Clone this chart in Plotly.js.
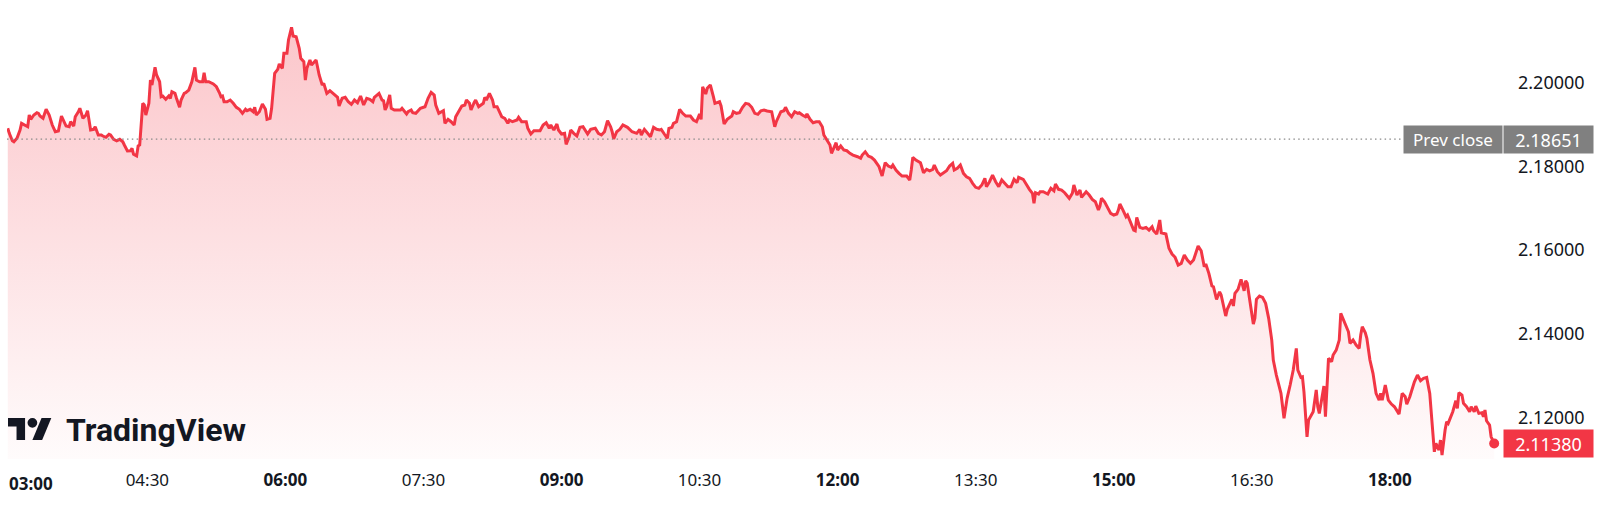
<!DOCTYPE html>
<html>
<head>
<meta charset="utf-8">
<script src="https://cdn.plot.ly/plotly-3.0.1.min.js"></script>
<style>
html,body{margin:0;padding:0;background:#ffffff;}
#chart{width:1610px;height:506px;}
</style>
</head>
<body>
<div id="chart"></div>
<script>
// ---------------- DATA ----------------
const DAY = '2024-01-01 ';
const times = [
'02:59','03:00','03:02','03:03','03:05','03:07','03:08','03:11','03:12','03:13',
'03:14','03:16','03:18','03:19','03:20','03:22','03:24','03:26','03:28','03:30',
'03:32','03:34','03:35','03:37','03:39','03:40','03:42','03:43','03:45','03:46',
'03:48','03:50','03:51','03:53','03:55','03:56','03:58','04:00','04:01','04:03',
'04:05','04:06','04:08','04:10','04:12','04:14','04:15','04:17','04:19','04:20',
'04:21','04:23','04:24','04:25','04:27','04:28','04:29','04:31','04:32','04:33',
'04:35','04:36','04:38','04:39','04:40','04:42','04:44','04:45','04:46','04:48',
'04:49','04:51','04:52','04:54','04:55','04:57','04:59','05:01','05:02','05:04',
'05:06','05:07','05:08','05:10','05:13','05:15','05:17','05:18','05:19','05:20',
'05:22','05:24','05:26','05:28','05:30','05:32','05:34','05:35','05:37','05:39',
'05:40','05:41','05:43','05:45','05:47','05:48','05:50','05:51','05:53','05:55',
'05:56','05:58','05:59','06:01','06:02','06:04','06:05','06:07','06:09','06:10',
'06:12','06:13','06:14','06:16','06:17','06:20','06:22','06:24','06:25','06:27',
'06:29','06:31','06:34','06:35','06:37','06:39','06:41','06:43','06:45','06:47',
'06:49','06:51','06:53','06:55','06:57','06:58','07:01','07:03','07:04','07:05',
'07:06','07:08','07:09','07:11','07:15','07:16','07:19','07:20','07:22','07:23',
'07:25','07:28','07:31','07:33','07:35','07:37','07:38','07:40','07:42','07:43',
'07:44','07:46','07:48','07:50','07:51','07:53','07:55','07:57','07:58','08:00',
'08:01','08:03','08:04','08:06','08:08','08:09','08:10','08:11','08:13','08:15',
'08:16','08:18','08:21','08:23','08:25','08:26','08:28','08:31','08:32','08:34',
'08:37','08:38','08:40','08:42','08:44','08:46','08:48','08:50','08:52','08:53',
'08:55','08:57','08:58','09:00','09:02','09:03','09:05','09:06','09:08','09:10',
'09:12','09:14','09:17','09:19','09:22','09:24','09:26','09:28','09:30','09:32',
'09:33','09:34','09:36','09:38','09:40','09:43','09:46','09:48','09:49','09:51',
'09:52','09:54','09:56','09:58','10:00','10:02','10:04','10:05','10:07','10:09',
'10:10','10:12','10:13','10:15','10:17','10:19','10:21','10:24','10:26','10:28',
'10:30','10:31','10:32','10:34','10:35','10:37','10:39','10:40','10:43','10:44',
'10:46','10:48','10:51','10:52','10:54','10:56','10:58','11:00','11:02','11:04',
'11:06','11:08','11:10','11:12','11:14','11:17','11:19','11:20','11:23','11:25',
'11:26','11:28','11:30','11:32','11:34','11:35','11:37','11:39','11:40','11:42',
'11:44','11:46','11:48','11:50','11:51','11:53','11:55','11:56','11:59','12:00',
'12:02','12:04','12:06','12:08','12:10','12:13','12:15','12:16','12:18','12:20',
'12:22','12:24','12:26','12:27','12:29','12:31','12:33','12:35','12:36','12:38',
'12:40','12:42','12:45','12:47','12:48','12:49','12:51','12:54','12:56','12:58',
'13:00','13:02','13:03','13:05','13:07','13:09','13:11','13:13','13:15','13:16',
'13:18','13:20','13:22','13:24','13:26','13:28','13:30','13:32','13:34','13:36',
'13:37','13:39','13:41','13:43','13:45','13:47','13:49','13:51','13:53','13:55',
'13:57','13:58','14:01','14:03','14:05','14:07','14:08','14:09','14:11','14:12',
'14:14','14:17','14:19','14:21','14:22','14:24','14:26','14:28','14:31','14:33',
'14:34','14:36','14:38','14:39','14:42','14:44','14:46','14:48','14:50','14:51',
'14:52','14:54','14:56','14:58','15:00','15:02','15:03','15:04','15:06','15:08',
'15:09','15:11','15:13','15:14','15:15','15:17','15:19','15:21','15:23','15:25',
'15:26','15:28','15:30','15:31','15:32','15:34','15:36','15:38','15:40','15:42',
'15:44','15:46','15:48','15:50','15:52','15:55','15:57','15:59','16:00','16:02',
'16:04','16:05','16:07','16:09','16:10','16:12','16:13','16:14','16:17','16:18',
'16:19','16:21','16:23','16:25','16:26','16:27','16:29','16:31','16:32','16:33',
'16:35','16:37','16:39','16:41','16:43','16:44','16:46','16:49','16:51','16:53',
'16:55','16:57','16:59','17:00','17:02','17:03','17:04','17:06','17:07','17:09',
'17:10','17:12','17:13','17:14','17:17','17:18','17:20','17:22','17:23','17:25',
'17:27','17:28','17:30','17:31','17:33','17:34','17:36','17:38','17:40','17:41',
'17:42','17:44','17:45','17:47','17:49','17:51','17:53','17:54','17:55','17:57',
'17:59','18:01','18:03','18:06','18:08','18:10','18:11','18:13','18:14','18:16',
'18:18','18:20','18:22','18:24','18:26','18:27','18:29','18:30','18:32','18:33',
'18:34','18:36','18:37','18:38','18:40','18:41','18:43','18:44','18:45','18:47',
'18:48','18:50','18:52','18:53','18:55','18:56','18:58','19:00','19:01','19:02',
'19:03','19:05','19:06','19:08'
];
const prices = [
2.18910,2.18790,2.18613,2.18589,2.18671,2.18869,2.19029,2.18965,2.18948,2.19228,
2.19125,2.19228,2.19283,2.19268,2.19204,2.19149,2.19364,2.19228,2.18989,2.18828,
2.18845,2.19204,2.19125,2.18965,2.18948,2.19068,2.18965,2.19187,2.19306,2.19388,
2.19149,2.19228,2.19330,2.18869,2.18886,2.18948,2.18750,2.18750,2.18726,2.18695,
2.18766,2.18750,2.18647,2.18613,2.18647,2.18589,2.18511,2.18367,2.18374,2.18432,
2.18288,2.18248,2.18487,2.18511,2.19507,2.19467,2.19228,2.19507,2.20064,2.19945,
2.20367,2.20184,2.20023,2.19665,2.19682,2.19603,2.19682,2.19627,2.19784,2.19746,
2.19627,2.19412,2.19586,2.19746,2.19760,2.19825,2.20023,2.20367,2.20064,2.20023,
2.20023,2.20239,2.20023,2.20023,2.19969,2.19904,2.19760,2.19665,2.19682,2.19545,
2.19545,2.19586,2.19507,2.19412,2.19364,2.19268,2.19364,2.19330,2.19364,2.19306,
2.19412,2.19228,2.19306,2.19490,2.19364,2.19125,2.19149,2.19388,2.20224,2.20320,
2.20446,2.20344,2.20702,2.20702,2.21020,2.21324,2.21116,2.21099,2.20822,2.20583,
2.20501,2.20064,2.20344,2.20542,2.20423,2.20542,2.20184,2.19945,2.19985,2.19746,
2.19808,2.19746,2.19651,2.19443,2.19627,2.19651,2.19545,2.19483,2.19586,2.19522,
2.19682,2.19467,2.19627,2.19603,2.19545,2.19651,2.19746,2.19586,2.19569,2.19348,
2.19427,2.19706,2.19388,2.19348,2.19348,2.19388,2.19252,2.19306,2.19348,2.19283,
2.19268,2.19388,2.19426,2.19627,2.19770,2.19706,2.19467,2.19268,2.19306,2.19330,
2.19029,2.19125,2.19068,2.18989,2.19187,2.19306,2.19443,2.19467,2.19586,2.19507,
2.19348,2.19522,2.19586,2.19426,2.19490,2.19507,2.19651,2.19586,2.19746,2.19586,
2.19426,2.19426,2.19187,2.19149,2.19029,2.19108,2.19068,2.19108,2.19173,2.19068,
2.19068,2.18910,2.18774,2.18853,2.18853,2.18853,2.18989,2.19044,2.18910,2.18989,
2.18869,2.19013,2.18869,2.18774,2.18790,2.18527,2.18709,2.18869,2.18790,2.18726,
2.18933,2.18948,2.18774,2.18886,2.18910,2.18790,2.18750,2.18828,2.19091,2.18948,
2.18828,2.18654,2.18828,2.18886,2.18989,2.18933,2.18828,2.18804,2.18790,2.18886,
2.18750,2.18886,2.18790,2.18709,2.18933,2.18886,2.18869,2.18886,2.18774,2.18671,
2.18910,2.18933,2.19029,2.19068,2.19364,2.19268,2.19204,2.19204,2.19108,2.19068,
2.19252,2.19125,2.19904,2.19730,2.19866,2.19945,2.19665,2.19507,2.19545,2.19443,
2.19013,2.19125,2.19204,2.19306,2.19268,2.19283,2.19412,2.19507,2.19490,2.19412,
2.19268,2.19244,2.19330,2.19348,2.19323,2.19306,2.18948,2.19068,2.19306,2.19330,
2.19412,2.19268,2.19187,2.19306,2.19268,2.19283,2.19228,2.19187,2.19252,2.19125,
2.19044,2.19068,2.19068,2.18948,2.18750,2.18613,2.18511,2.18312,2.18566,2.18391,
2.18487,2.18391,2.18374,2.18312,2.18271,2.18231,2.18193,2.18271,2.18350,2.18248,
2.18216,2.18152,2.18033,2.17992,2.17770,2.18088,2.18009,2.17978,2.18033,2.17913,
2.17834,2.17770,2.17770,2.17674,2.17913,2.18216,2.18152,2.18088,2.17849,2.17930,
2.17896,2.17930,2.18033,2.17873,2.17794,2.17849,2.17896,2.18009,2.18073,2.17913,
2.17954,2.18033,2.17834,2.17753,2.17715,2.17595,2.17500,2.17476,2.17555,2.17715,
2.17514,2.17634,2.17794,2.17634,2.17514,2.17674,2.17595,2.17514,2.17514,2.17691,
2.17610,2.17739,2.17691,2.17555,2.17452,2.17356,2.17117,2.17371,2.17339,2.17394,
2.17394,2.17339,2.17476,2.17418,2.17579,2.17452,2.17435,2.17371,2.17237,2.17357,
2.17555,2.17316,2.17435,2.17260,2.17394,2.17316,2.17213,2.17155,2.16957,2.17053,
2.17237,2.17155,2.16998,2.16878,2.16838,2.16862,2.16957,2.17100,2.16957,2.16797,
2.16838,2.16639,2.16479,2.16462,2.16782,2.16543,2.16519,2.16543,2.16479,2.16558,
2.16462,2.16383,2.16718,2.16415,2.16400,2.16383,2.16042,2.15905,2.15827,2.15643,
2.15683,2.15881,2.15762,2.15683,2.15762,2.16096,2.15984,2.15602,2.15666,2.15444,
2.15141,2.15124,2.14823,2.15004,2.14926,2.14567,2.14424,2.14584,2.14823,2.14663,
2.14966,2.15062,2.15301,2.15028,2.15267,2.15205,2.14727,2.14232,2.14369,2.14823,
2.14902,2.14871,2.14727,2.14369,2.13850,2.13372,2.13014,2.12577,2.11979,2.12457,
2.12775,2.13133,2.13652,2.13133,2.12958,2.12973,2.12614,2.11539,2.11938,2.12057,
2.12136,2.12657,2.12258,2.12098,2.12751,2.12017,2.13413,2.13331,2.13491,2.13611,
2.13850,2.14488,2.14311,2.14208,2.14048,2.13771,2.13850,2.13730,2.13651,2.13970,
2.14168,2.14025,2.13890,2.13372,2.13054,2.12576,2.12416,2.12576,2.12416,2.12775,
2.12416,2.12320,2.12256,2.12081,2.12576,2.12495,2.12320,2.12495,2.12614,2.12853,
2.13014,2.12877,2.12935,2.12959,2.12576,2.12098,2.11181,2.11381,2.11221,2.11460,
2.11101,2.11699,2.11898,2.11859,2.12058,2.12137,2.12400,2.12218,2.12591,2.12536,
2.12337,2.12256,2.12137,2.12256,2.12137,2.12273,2.12098,2.12113,2.12017,2.12177,
2.11921,2.11818,2.11539,2.11380
];
const prevClose = 2.18651;
const yTickVals = [2.12, 2.14, 2.16, 2.18, 2.20];
const xTickTimes = ['04:30','06:00','07:30','09:00','10:30','12:00','13:30','15:00','16:30','18:00'];
const boldTimes = ['03:00','06:00','09:00','12:00','15:00','18:00'];
const firstTimeLabel = '03:00';
const xRangeTimes = ['02:58:30','19:13:06'];
const yRange = [2.11008, 2.21976];
const brandText = 'TradingView';
const prevCloseLabel = 'Prev close';

// ---------------- STYLE ----------------
const RED = '#F23645';
const TEXT = '#131722';
const FONT = '"Noto Sans", Roboto, "DejaVu Sans", sans-serif';
const W = 1610, H = 506;
const M = {l: 7, r: 108, t: 0, b: 47};
const plotW = W - M.l - M.r, plotH = H - M.t - M.b;
const pxX = X => (X - M.l) / plotW;         // page pixel -> paper x
const pxY = Y => (plotH - (Y - M.t)) / plotH; // page pixel -> paper y

const lastTime = times[times.length - 1];
const lastPrice = prices[prices.length - 1];
const fmt = v => v.toFixed(5);

const areaTrace = {
  x: times.map(t => DAY + t),
  y: prices,
  type: 'scatter',
  mode: 'lines',
  line: {color: RED, width: 3, shape: 'linear'},
  fill: 'tozeroy',
  fillgradient: {
    type: 'vertical',
    start: yRange[0],
    stop: yRange[1],
    colorscale: [[0, 'rgba(242,54,69,0.02)'], [1, 'rgba(242,54,69,0.30)']]
  },
  hoverinfo: 'skip'
};
const lastDot = {
  x: [DAY + lastTime],
  y: [lastPrice],
  type: 'scatter',
  mode: 'markers',
  marker: {color: RED, size: 10},
  cliponaxis: false,
  hoverinfo: 'skip'
};

// TradingView logo glyph (viewBox 36x28) placed in page pixels
const LS = 1.22, LX = 8, LY = 413.1;
const lp = (vx, vy) => pxX(LX + LS * vx).toFixed(5) + ',' + pxY(LY + LS * vy).toFixed(5);
const logoT = 'M' + lp(14,22) + ' L' + lp(7,22) + ' L' + lp(7,11) + ' L' + lp(0,11) + ' L' + lp(0,4) + ' L' + lp(14,4) + ' Z';
const logoSlash = 'M' + lp(28,22) + ' L' + lp(20,22) + ' L' + lp(27.5,4) + ' L' + lp(35.5,4) + ' Z';

const shapes = [
  {type: 'line', xref: 'paper', yref: 'y', x0: 0, x1: pxX(1402), y0: prevClose, y1: prevClose,
   line: {color: '#8a8a8a', width: 1.2, dash: '1.5px,3.3px'}, layer: 'above'},
  {type: 'path', xref: 'paper', yref: 'paper', path: logoT, fillcolor: TEXT, line: {width: 0}, layer: 'above'},
  {type: 'path', xref: 'paper', yref: 'paper', path: logoSlash, fillcolor: TEXT, line: {width: 0}, layer: 'above'},
  {type: 'circle', xref: 'paper', yref: 'paper',
   x0: pxX(LX + LS * 16), x1: pxX(LX + LS * 24), y0: pxY(LY + LS * 4), y1: pxY(LY + LS * 12),
   fillcolor: TEXT, line: {width: 0}, layer: 'above'}
];

const annotations = [
  {text: '<b>' + firstTimeLabel + '</b>', xref: 'paper', yref: 'paper', x: pxX(7), y: pxY(483),
   xanchor: 'left', yanchor: 'middle', showarrow: false, font: {family: FONT, size: 17, color: TEXT}},
  {text: brandText, xref: 'paper', yref: 'paper', x: pxX(64), y: pxY(430),
   xanchor: 'left', yanchor: 'middle', showarrow: false,
   font: {family: 'Roboto, "Noto Sans", sans-serif', size: 32, color: TEXT, weight: 700}},
  {text: prevCloseLabel, xref: 'paper', yref: 'y', x: pxX(1403), y: prevClose,
   xanchor: 'left', yanchor: 'middle', showarrow: false, width: 98, height: 27, borderpad: 0,
   bgcolor: '#808080', align: 'center', font: {family: FONT, size: 17, color: '#ffffff'}},
  {text: fmt(prevClose), xref: 'paper', yref: 'y', x: pxX(1503), y: prevClose,
   xanchor: 'left', yanchor: 'middle', showarrow: false, width: 89, height: 27, borderpad: 0,
   bgcolor: '#808080', align: 'center', font: {family: FONT, size: 18, color: '#ffffff'}},
  {text: fmt(lastPrice), xref: 'paper', yref: 'y', x: pxX(1503), y: lastPrice,
   xanchor: 'left', yanchor: 'middle', showarrow: false, width: 89, height: 27, borderpad: 0,
   bgcolor: RED, align: 'center', font: {family: FONT, size: 18, color: '#ffffff'}}
];

const layout = {
  width: W, height: H,
  margin: M,
  paper_bgcolor: '#ffffff',
  plot_bgcolor: '#ffffff',
  showlegend: false,
  xaxis: {
    type: 'date',
    range: xRangeTimes.map(t => DAY + t),
    tickmode: 'array',
    tickvals: xTickTimes.map(t => DAY + t),
    ticktext: xTickTimes.map(t => boldTimes.includes(t) ? '<b>' + t + '</b>' : t),
    showgrid: false, zeroline: false, showline: false, ticks: '',
    tickfont: {family: FONT, size: 17, color: TEXT},
    ticklabelstandoff: 9,
    fixedrange: true
  },
  yaxis: {
    side: 'right',
    range: yRange,
    tickmode: 'array',
    tickvals: yTickVals,
    ticktext: yTickVals.map(fmt),
    showgrid: false, zeroline: false, showline: false, ticks: '',
    tickfont: {family: FONT, size: 18, color: TEXT},
    ticklabelstandoff: 15,
    fixedrange: true
  },
  shapes: shapes,
  annotations: annotations
};

Plotly.newPlot('chart', [areaTrace, lastDot], layout, {displayModeBar: false, staticPlot: true});
</script>
</body>
</html>
